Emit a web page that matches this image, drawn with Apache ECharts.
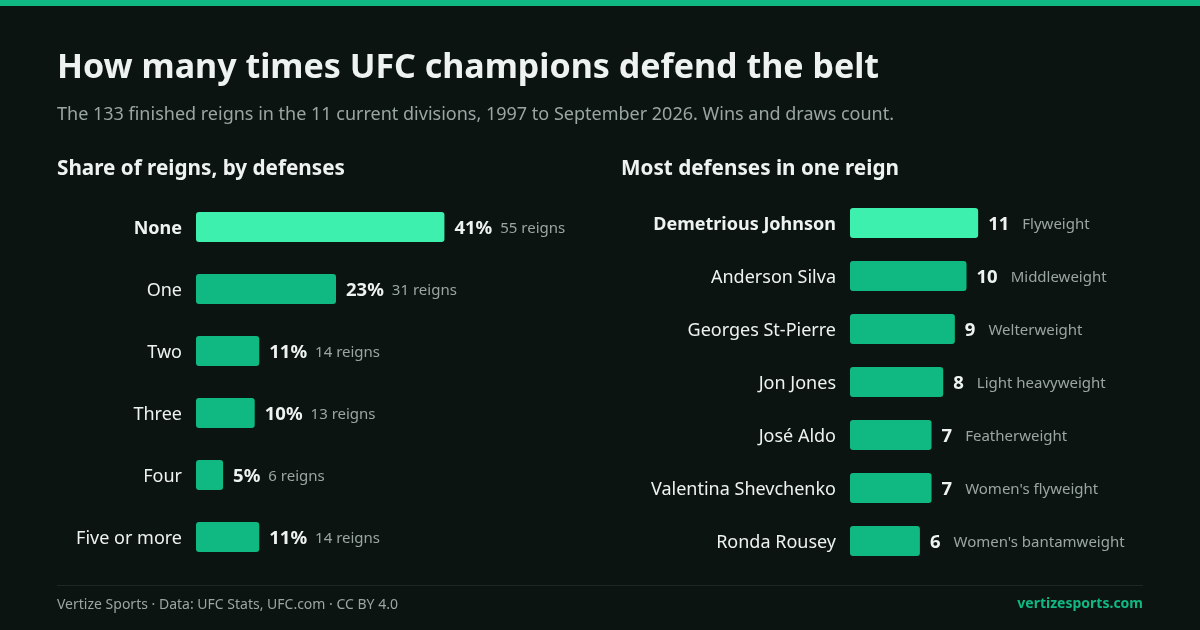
<!DOCTYPE html>
<html><head><meta charset="utf-8">
<script src="https://cdn.jsdelivr.net/npm/echarts@6/dist/echarts.min.js"></script>
<style>html,body{margin:0;padding:0;background:#0c1412;}#c{width:1200px;height:630px;}</style>
</head><body><div id="c"></div>
<script>
const defenseCategories = ['None', 'One', 'Two', 'Three', 'Four', 'Five or more'];
const defenseShares = [41, 23, 11, 10, 5, 11];
const defenseReigns = [55, 31, 14, 13, 6, 14];
const fighterNames = ['Demetrious Johnson', 'Anderson Silva', 'Georges St-Pierre', 'Jon Jones', 'José Aldo', 'Valentina Shevchenko', 'Ronda Rousey'];
const fighterDefenses = [11, 10, 9, 8, 7, 7, 6];
const fighterDivisions = ['Flyweight', 'Middleweight', 'Welterweight', 'Light heavyweight', 'Featherweight', "Women's flyweight", "Women's bantamweight"];

const FONT = '"Noto Sans", sans-serif';
const BG = '#0c1412', BAR = '#10b981', HI = '#3ef0ae', TXT = '#eef3f1', MUTED = '#9aa6a2';

const chart = echarts.init(document.getElementById('c'), null, {renderer: 'canvas'});
chart.setOption({
  backgroundColor: BG,
  animation: false,
  textStyle: {fontFamily: FONT},
  title: [
    {text: 'How many times UFC champions defend the belt', left: 57, top: 51, padding: 0,
     textStyle: {fontFamily: FONT, fontSize: 34, fontWeight: 'bold', color: TXT}},
    {text: 'The 133 finished reigns in the 11 current divisions, 1997 to September 2026. Wins and draws count.', left: 57, top: 106, padding: 0,
     textStyle: {fontFamily: FONT, fontSize: 18, fontWeight: 'normal', color: MUTED}},
    {text: 'Share of reigns, by defenses', left: 57, top: 159, padding: 0,
     textStyle: {fontFamily: FONT, fontSize: 20.7, fontWeight: 'bold', color: TXT}},
    {text: 'Most defenses in one reign', left: 621, top: 159, padding: 0,
     textStyle: {fontFamily: FONT, fontSize: 20.7, fontWeight: 'bold', color: TXT}},
    {text: 'Vertize Sports · Data: UFC Stats, UFC.com · CC BY 4.0', left: 57, top: 598, padding: 0,
     textStyle: {fontFamily: FONT, fontSize: 14, fontWeight: 'normal', color: MUTED}},
    {text: 'vertizesports.com', right: 57, top: 597, padding: 0,
     textStyle: {fontFamily: FONT, fontSize: 14, fontWeight: 'bold', color: BAR}}
  ],
  graphic: [
    {type: 'rect', shape: {x: 0, y: 0, width: 1200, height: 6}, style: {fill: BAR}},
    {type: 'rect', shape: {x: 57, y: 585, width: 1086, height: 1}, style: {fill: '#1d2826'}}
  ],
  grid: [
    {left: 196, top: 196, width: 271, height: 372},
    {left: 850, top: 196.5, width: 233, height: 371}
  ],
  xAxis: [
    {gridIndex: 0, type: 'value', min: 0, max: 60, show: false},
    {gridIndex: 1, type: 'value', min: 0, max: 20, show: false}
  ],
  yAxis: [
    {gridIndex: 0, type: 'category', data: defenseCategories, inverse: true,
     axisLine: {show: false}, axisTick: {show: false}, splitLine: {show: false},
     axisLabel: {margin: 14, fontFamily: FONT, fontSize: 18, color: TXT, padding: [4, 0, 0, 0],
       formatter: (v, i) => i === 0 ? '{b|' + v + '}' : v,
       rich: {b: {fontFamily: FONT, fontSize: 18, fontWeight: 'bold', color: TXT}}}},
    {gridIndex: 1, type: 'category', data: fighterNames, inverse: true,
     axisLine: {show: false}, axisTick: {show: false}, splitLine: {show: false},
     axisLabel: {margin: 14, fontFamily: FONT, fontSize: 18, color: TXT, padding: [4, 0, 0, 0],
       formatter: (v, i) => i === 0 ? '{b|' + v + '}' : v,
       rich: {b: {fontFamily: FONT, fontSize: 18, fontWeight: 'bold', color: TXT}}}}
  ],
  series: [
    {type: 'bar', xAxisIndex: 0, yAxisIndex: 0, barWidth: 30,
     data: defenseReigns.map((v, i) => ({value: v, itemStyle: {color: i === 0 ? HI : BAR}})),
     itemStyle: {borderRadius: 3},
     label: {show: true, position: 'right', distance: 10, padding: [4, 0, 0, 0],
       formatter: p => '{v|' + defenseShares[p.dataIndex] + '%}{g|' + defenseReigns[p.dataIndex] + ' reigns}',
       rich: {v: {fontFamily: FONT, fontSize: 18.5, fontWeight: 'bold', color: TXT, padding: [0, 8, 0, 0]},
              g: {fontFamily: FONT, fontSize: 15, color: MUTED}}}},
    {type: 'bar', xAxisIndex: 1, yAxisIndex: 1, barWidth: 30,
     data: fighterDefenses.map((v, i) => ({value: v, itemStyle: {color: i === 0 ? HI : BAR}})),
     itemStyle: {borderRadius: 3},
     label: {show: true, position: 'right', distance: 10, padding: [4, 0, 0, 0],
       formatter: p => '{v|' + fighterDefenses[p.dataIndex] + '}{g|' + fighterDivisions[p.dataIndex] + '}',
       rich: {v: {fontFamily: FONT, fontSize: 18.5, fontWeight: 'bold', color: TXT, padding: [0, 13, 0, 0]},
              g: {fontFamily: FONT, fontSize: 15, color: MUTED}}}}
  ]
});
</script></body></html>
